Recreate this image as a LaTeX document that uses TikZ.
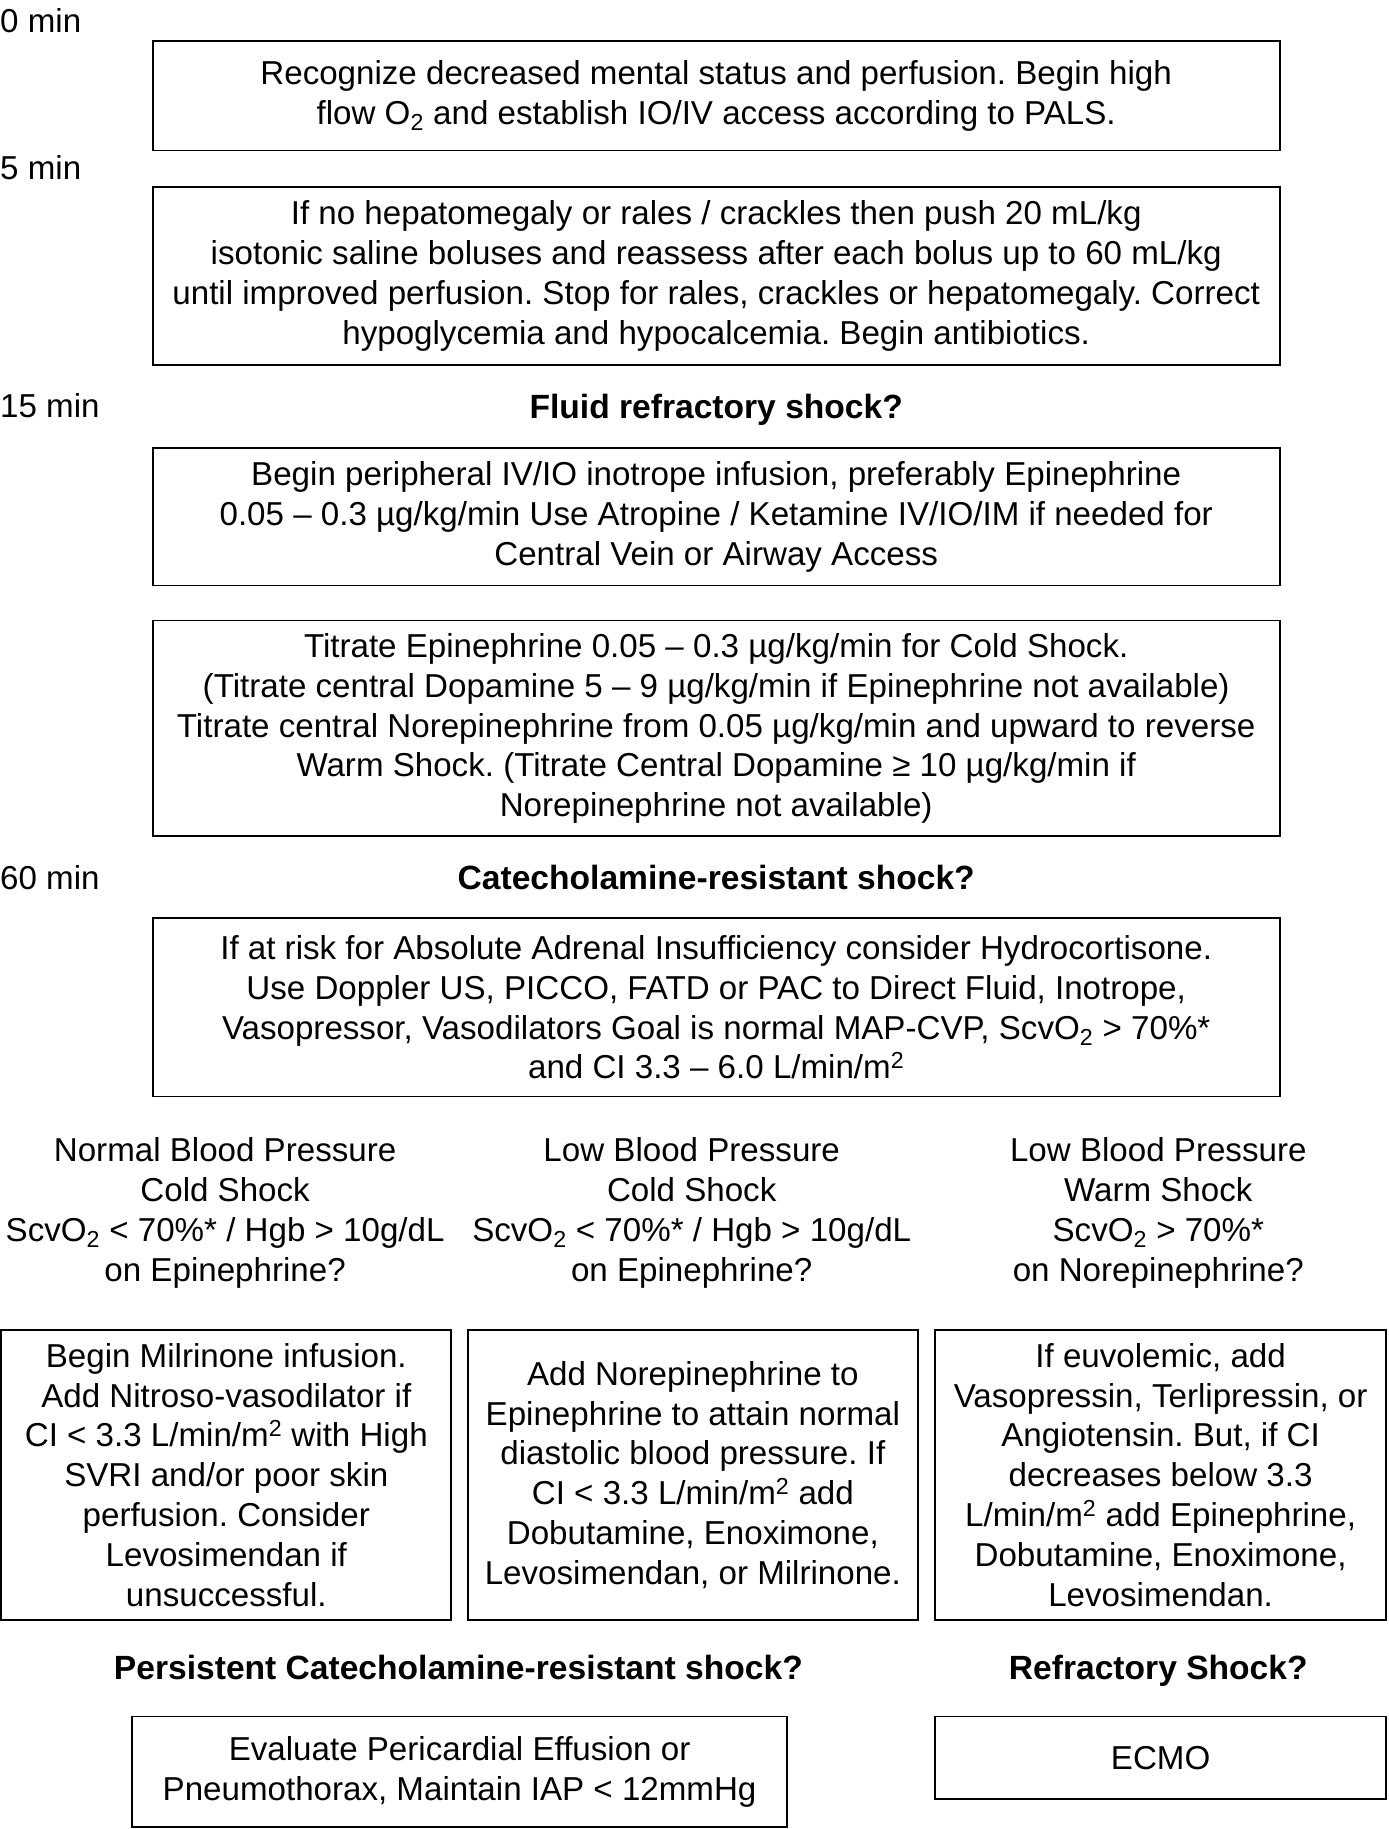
\documentclass[tikz,border=0pt]{standalone}
\usepackage{fontspec}
\setmainfont{Liberation Sans}
\begin{document}
\frenchspacing
\begin{tikzpicture}[x=1pt,y=-1pt,
  txt/.style={font=\fontsize{28.4}{34.2}\selectfont, align=center, inner sep=0pt},
  q/.style={txt, anchor=base, font=\fontsize{28.8}{34.2}\selectfont\bfseries},
  box/.style={txt, draw, line width=1.6pt},
  tlabel/.style={txt, anchor=west}]
\useasboundingbox (0,0) rectangle (1190,1568);
% time labels
\node[tlabel] (t0) at (0,18) {0 min};
\node[tlabel] (t5) at (0,144) {5 min};
\node[tlabel] (t15) at (0,348) {15 min};
\node[tlabel] (t60) at (0,752) {60 min};
% main boxes
\node[box, minimum width=966, minimum height=94] (b1) at (614,82)
 {Recognize decreased mental status and perfusion. Begin high\\
  flow O\textsubscript{2} and establish IO/IV access according to PALS.};
\node[box, minimum width=966, minimum height=153] (b2) at (614,236.5)
 {If no hepatomegaly or rales / crackles then push 20 mL/kg\\
  isotonic saline boluses and reassess after each bolus up to 60 mL/kg\\
  until improved perfusion. Stop for rales, crackles or hepatomegaly. Correct\\
  hypoglycemia and hypocalcemia. Begin antibiotics.};
\node[q] (q1) at (614,358.5) {Fluid refractory shock?};
\node[box, minimum width=966, minimum height=118] (b3) at (614,443)
 {Begin peripheral IV/IO inotrope infusion, preferably Epinephrine\\
  0.05 – 0.3 µg/kg/min Use Atropine / Ketamine IV/IO/IM if needed for\\
  Central Vein or Airway Access};
\node[box, minimum width=966, minimum height=185] (b4) at (614,624.5)
 {Titrate Epinephrine 0.05 – 0.3 µg/kg/min for Cold Shock.\\
  (Titrate central Dopamine 5 – 9 µg/kg/min if Epinephrine not available)\\
  Titrate central Norepinephrine from 0.05 µg/kg/min and upward to reverse\\
  Warm Shock. (Titrate Central Dopamine ≥ 10 µg/kg/min if\\
  Norepinephrine not available)};
\node[q] (q2) at (614,762.5) {Catecholamine-resistant shock?};
\node[box, minimum width=966, minimum height=153] (b5) at (614,863.5)
 {If at risk for Absolute Adrenal Insufficiency consider Hydrocortisone.\\
  Use Doppler US, PICCO, FATD or PAC to Direct Fluid, Inotrope,\\
  Vasopressor, Vasodilators Goal is normal MAP-CVP, ScvO\textsubscript{2} > 70\%*\\
  and CI 3.3 – 6.0 L/min/m\textsuperscript{2}};
% column questions
\node[txt] (c1) at (193,1040)
 {Normal Blood Pressure\\ Cold Shock\\ ScvO\textsubscript{2} < 70\%* / Hgb > 10g/dL\\ on Epinephrine?};
\node[txt] (c2) at (593,1040)
 {Low Blood Pressure\\ Cold Shock\\ ScvO\textsubscript{2} < 70\%* / Hgb > 10g/dL\\ on Epinephrine?};
\node[txt] (c3) at (993,1040)
 {Low Blood Pressure\\ Warm Shock\\ ScvO\textsubscript{2} > 70\%*\\ on Norepinephrine?};
% column boxes
\node[box, minimum width=386, minimum height=249] (ba) at (194,1264.5)
 {Begin Milrinone infusion.\\ Add Nitroso-vasodilator if\\ CI < 3.3 L/min/m\textsuperscript{2} with High\\
  SVRI and/or poor skin\\ perfusion. Consider\\ Levosimendan if\\ unsuccessful.};
\node[box, minimum width=386, minimum height=249] (bb) at (594,1264.5)
 {Add Norepinephrine to\\ Epinephrine to attain normal\\ diastolic blood pressure. If\\
  CI < 3.3 L/min/m\textsuperscript{2} add\\ Dobutamine, Enoximone,\\ Levosimendan, or Milrinone.};
\node[box, minimum width=387, minimum height=249] (bc) at (995,1264.5)
 {If euvolemic, add\\ Vasopressin, Terlipressin, or\\ Angiotensin. But, if CI\\ decreases below 3.3\\
  L/min/m\textsuperscript{2} add Epinephrine,\\ Dobutamine, Enoximone,\\ Levosimendan.};
\node[q] (q3) at (393,1439.5) {Persistent Catecholamine-resistant shock?};
\node[q] (q4) at (993,1439.5) {Refractory Shock?};
\node[box, minimum width=562, minimum height=95] (bd) at (394,1519)
 {Evaluate Pericardial Effusion or\\ Pneumothorax, Maintain IAP < 12mmHg};
\node[box, minimum width=387, minimum height=71] (be) at (995,1507) {ECMO};
\end{tikzpicture}
\end{document}
